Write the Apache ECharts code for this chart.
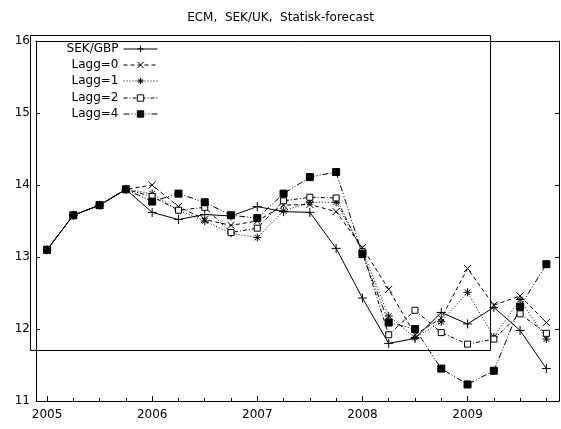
<!DOCTYPE html>
<html>
<head>
<meta charset="utf-8">
<script src="https://cdn.jsdelivr.net/npm/echarts@6/dist/echarts.min.js"></script>
<style>
  html, body { margin: 0; padding: 0; background: #fff; }
  #chart { width: 561px; height: 429px; }
</style>
</head>
<body>
<div id="chart"></div>
<script>
// quarterly dates, 2005Q1 .. 2009Q4
const quarters = [
  2005, 2005.25, 2005.5, 2005.75, 2006, 2006.25, 2006.5, 2006.75,
  2007, 2007.25, 2007.5, 2007.75, 2008, 2008.25, 2008.5, 2008.75,
  2009, 2009.25, 2009.5, 2009.75
];
const yearTicks = [2005, 2006, 2007, 2008, 2009];

const sekGbp = [13.10, 13.58, 13.72, 13.94, 13.62, 13.52, 13.59, 13.57, 13.70, 13.63,
  13.62, 13.12, 12.43, 11.80, 11.87, 12.23, 12.07, 12.30, 11.98, 11.45];
const lagg0 = [13.10, 13.58, 13.72, 13.94, 14.00, 13.70, 13.52, 13.44, 13.50, 13.72,
  13.73, 13.63, 13.13, 12.55, 11.92, 12.15, 12.84, 12.33, 12.46, 12.09];
const lagg1 = [13.10, 13.58, 13.72, 13.94, 13.88, 13.65, 13.50, 13.33, 13.27, 13.64,
  13.76, 13.76, 13.09, 12.18, 11.88, 12.10, 12.51, 11.89, 12.41, 11.86];
const lagg2 = [13.10, 13.58, 13.72, 13.94, 13.84, 13.65, 13.69, 13.34, 13.40, 13.78,
  13.83, 13.82, 13.07, 11.92, 12.26, 11.95, 11.79, 11.86, 12.21, 11.94];
const lagg4 = [13.10, 13.58, 13.72, 13.94, 13.77, 13.88, 13.76, 13.58, 13.54, 13.88,
  14.11, 14.18, 13.04, 12.09, 12.00, 11.45, 11.23, 11.42, 12.31, 12.90];

const names = ['SEK/GBP', 'Lagg=0', 'Lagg=1', 'Lagg=2', 'Lagg=4'];
const values = [sekGbp, lagg0, lagg1, lagg2, lagg4];
const dashes = ['solid', [4, 3], [1, 2], [4, 2, 1, 2], [6, 2, 1, 2, 1, 2]];
const symbols = [
  'path://M0,5L10,5M5,0L5,10',
  'path://M0,0L10,10M10,0L0,10',
  'path://M0,5L10,5M5,0L5,10M1.5,1.5L8.5,8.5M8.5,1.5L1.5,8.5',
  'rect',
  'rect'
];
const symbolSizes = [9, 7, 8, 6, 7];
const fills = ['#000', '#000', '#000', '#fff', '#000'];

const font = 'DejaVu Sans';
const chart = echarts.init(document.getElementById('chart'));

const series = names.map((n, k) => ({
  name: n,
  type: 'line',
  data: quarters.map((q, i) => [q, values[k][i]]),
  symbol: symbols[k],
  symbolSize: symbolSizes[k],
  showAllSymbol: true,
  animation: false,
  lineStyle: { color: '#000', width: 1, type: dashes[k] },
  itemStyle: { color: fills[k], borderColor: '#000', borderWidth: 1 },
  emphasis: { disabled: true }
}));

const legendRows = [50, 66, 82, 99, 115];
const legends = names.map((n, k) => ({
  data: [n],
  orient: 'vertical',
  align: 'right',
  right: 403,
  top: legendRows[k] - 7,
  padding: 0,
  itemWidth: 34,
  itemHeight: 8,
  itemGap: 0,
  selectedMode: false,
  lineStyle: { width: 1 },
  itemStyle: { borderWidth: 1 },
  textStyle: { fontFamily: font, fontSize: 12, color: '#000' }
}));

const xMin = 2004.895, xMax = 2009.87;

chart.setOption({
  backgroundColor: '#fff',
  animation: false,
  title: {
    text: 'ECM,  SEK/UK,  Statisk-forecast',
    left: 'center',
    top: 7,
    textStyle: { fontFamily: font, fontSize: 12, fontWeight: 'normal', color: '#000' }
  },
  legend: legends,
  grid: { left: 36, top: 41, right: 2, bottom: 28 },
  xAxis: [{
    type: 'value', min: xMin, max: xMax,
    axisLine: { lineStyle: { color: '#000', width: 1 } },
    axisTick: { inside: true, length: 5, customValues: yearTicks, lineStyle: { color: '#000' } },
    axisLabel: {
      customValues: yearTicks, color: '#000', fontFamily: font, fontSize: 12, margin: 8,
      formatter: v => String(v)
    },
    splitLine: { show: false }
  }, {
    type: 'value', min: xMin, max: xMax, position: 'bottom',
    axisLine: { show: false },
    axisTick: { inside: true, length: 3, customValues: quarters, lineStyle: { color: '#000' } },
    axisLabel: { show: false },
    splitLine: { show: false }
  }, {
    type: 'value', min: xMin, max: xMax, position: 'top',
    axisLine: { lineStyle: { color: '#000', width: 1 } },
    axisTick: { show: false },
    axisLabel: { show: false },
    splitLine: { show: false }
  }],
  yAxis: [{
    type: 'value', min: 11, max: 16, interval: 1,
    axisLine: { show: true, lineStyle: { color: '#000', width: 1 } },
    axisTick: { show: true, inside: true, length: 4, lineStyle: { color: '#000' } },
    axisLabel: { color: '#000', fontFamily: font, fontSize: 12, margin: 6 },
    splitLine: { show: false }
  }, {
    type: 'value', min: 11, max: 16, interval: 1, position: 'right',
    axisLine: { show: true, lineStyle: { color: '#000', width: 1 } },
    axisTick: { show: true, inside: true, length: 4, lineStyle: { color: '#000' } },
    axisLabel: { show: false },
    splitLine: { show: false }
  }],
  graphic: [{
    type: 'rect',
    shape: { x: 30.5, y: 35.5, width: 460, height: 315 },
    style: { fill: 'none', stroke: '#000', lineWidth: 1 },
    silent: true
  }],
  series
});
</script>
</body>
</html>
